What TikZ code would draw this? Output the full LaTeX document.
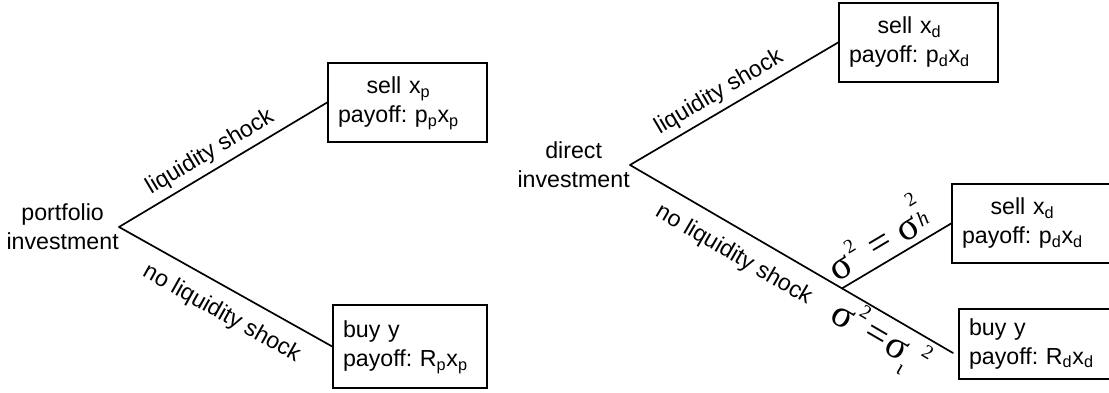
\documentclass[tikz,border=0pt]{standalone}
\usepackage{fontspec}
\setmainfont{Liberation Sans}
\newfontfamily\greekfont{Liberation Serif}
\frenchspacing

% sigma with a raised square, and sigma with an index and a square
\newcommand{\sigsq}{σ\hspace{0.06em}\raisebox{0.48em}{\fontsize{14}{14}\selectfont 2}}
\newcommand{\sighigh}{σ\hspace{0.04em}\rlap{\raisebox{0.72em}{\fontsize{14}{14}\selectfont 2}}\raisebox{0.12em}{\fontsize{15}{15}\selectfont\itshape h}}
\newcommand{\siglow}{σ\raisebox{-0.3em}{\fontsize{15}{15}\selectfont ι}\hspace{0.2em}\raisebox{0.4em}{\fontsize{14}{14}\selectfont 2}}

\tikzset{
  every node/.style={font=\fontsize{16.5}{20.5}\selectfont},
  root/.style={align=center, anchor=east, inner sep=0pt},
  leaf/.style={draw, line width=1.2pt, inner xsep=0.25cm, inner ysep=0pt, align=left},
  branch/.style={line width=1.2pt, line cap=round},
  lblup/.style={sloped, above, inner sep=4pt},
  lbldn/.style={sloped, below, inner sep=10pt},
  varlbl/.style={sloped, font=\greekfont\fontsize{28}{30}\selectfont}
}

\begin{document}
\begin{tikzpicture}
  \clip (0,0) rectangle (27.725,9.825);

  % roots of the two trees
  \node[root] (pi) at (2.975,4.150) {portfolio\\investment};
  \node[root] (di) at (15.750,5.700) {direct\\investment};

  % end nodes
  \node[leaf, text width=3.475cm, minimum height=1.975cm] (sp) at (10.188,7.263)
    {\begin{tabular}{@{}c@{}}sell x\textsubscript{p}\\payoff: p\textsubscript{p}x\textsubscript{p}\end{tabular}};
  \node[leaf, text width=3.350cm, minimum height=2.075cm] (bp) at (10.250,1.163)
    {\begin{tabular}{@{}l@{}}buy y\\payoff: R\textsubscript{p}x\textsubscript{p}\end{tabular}};
  \node[leaf, text width=3.475cm, minimum height=1.975cm] (sd) at (22.963,8.763)
    {\begin{tabular}{@{}c@{}}sell x\textsubscript{d}\\payoff: p\textsubscript{d}x\textsubscript{d}\end{tabular}};
  \node[leaf, text width=3.475cm, minimum height=1.975cm] (sh) at (25.788,4.238)
    {\begin{tabular}{@{}c@{}}sell x\textsubscript{d}\\payoff: p\textsubscript{d}x\textsubscript{d}\end{tabular}};
  \node[leaf, text width=3.475cm, minimum height=1.750cm] (bl) at (25.963,1.225)
    {\begin{tabular}{@{}l@{}}buy y\\payoff: R\textsubscript{d}x\textsubscript{d}\end{tabular}};

  \coordinate (J) at (21.050,2.615);
  \coordinate (E) at (23.825,1.000);

  % portfolio branches
  \draw[branch] (pi.east) -- node[lblup, pos=0.48] {liquidity shock} (sp.west);
  \draw[branch] (pi.east) -- node[lbldn, pos=0.54] {no liquidity shock} (bp.west);

  % direct branches
  \draw[branch] (di.east) -- node[lblup, pos=0.47] {liquidity shock} (sd.west);
  \draw[branch] (di.east) -- node[lbldn, pos=0.55] {no liquidity shock} (J);
  \draw[branch] (J) -- node[varlbl, above, inner sep=4pt, pos=0.43]
    {\sigsq\hspace{0.3em}=\hspace{0.25em}\sighigh} (sh.west);
  \draw[branch] (J) -- node[varlbl, below, inner sep=1pt, pos=0.45]
    {\sigsq\hspace{0.12em}=\hspace{0.05em}\siglow} (E);
\end{tikzpicture}
\end{document}
